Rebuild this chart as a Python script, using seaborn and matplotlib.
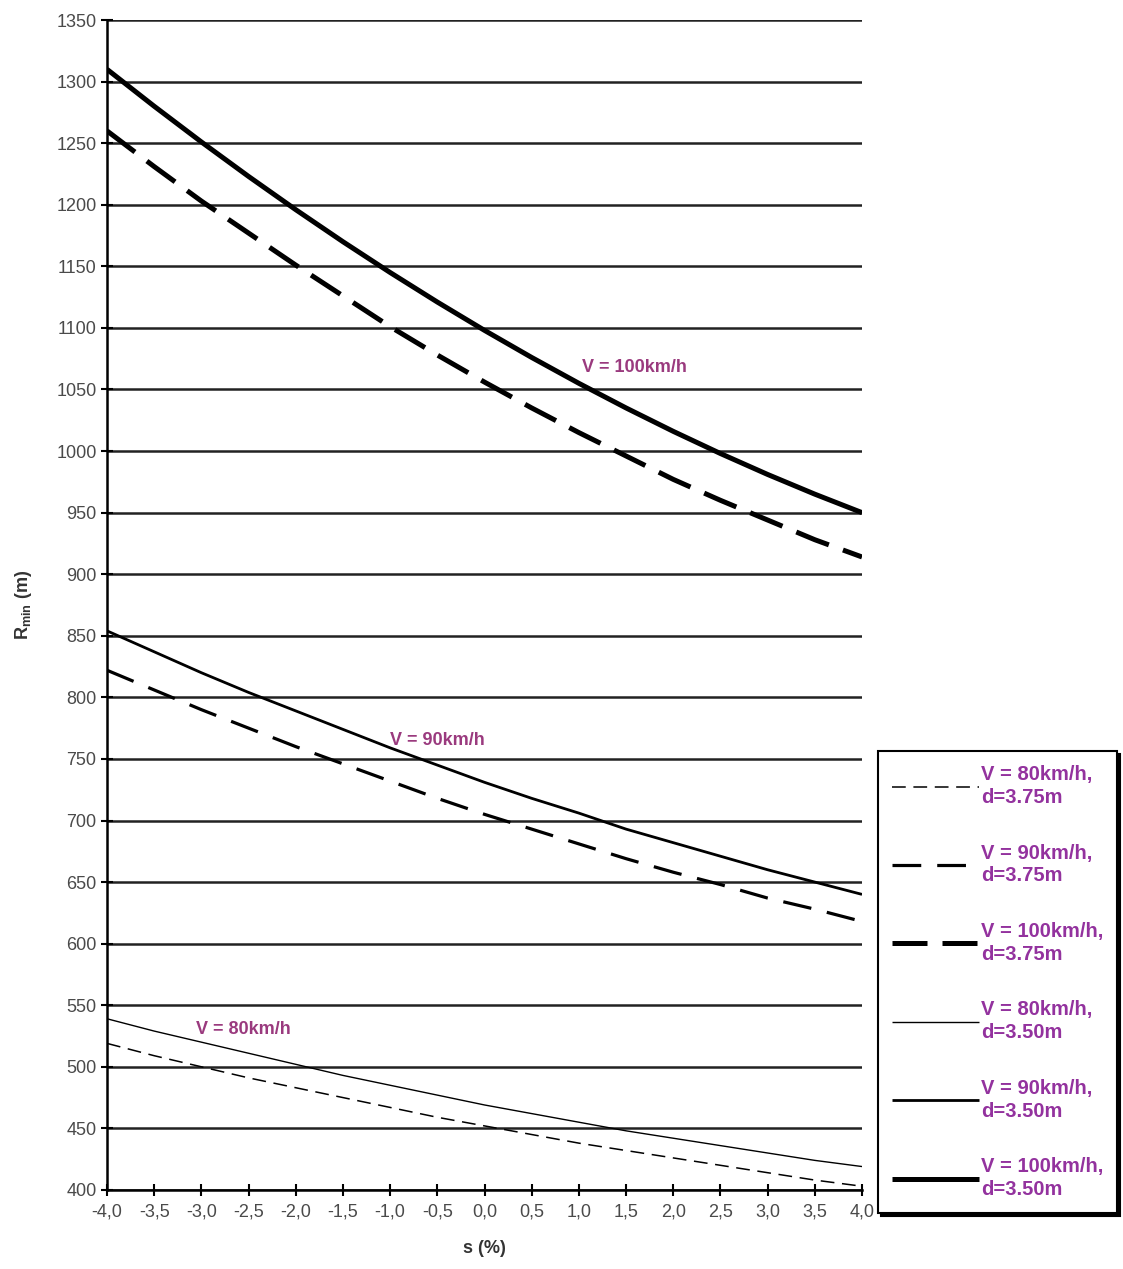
import matplotlib
matplotlib.use("Agg")
import matplotlib.pyplot as plt
import numpy as np
import pandas as pd
import seaborn as sns

# Grade s (%) and minimum radius R_min (m) for each design speed / lane width
s_values = [-4.0, -3.5, -3.0, -2.5, -2.0, -1.5, -1.0, -0.5, 0.0,
            0.5, 1.0, 1.5, 2.0, 2.5, 3.0, 3.5, 4.0]

r_80_375 = [519, 509, 500, 491, 483, 475, 467, 459, 452, 445, 438, 432, 426, 420, 414, 408, 403]
r_90_375 = [822, 806, 790, 775, 760, 746, 732, 718, 705, 693, 681, 669, 658, 648, 637, 628, 618]
r_100_375 = [1260, 1231, 1203, 1177, 1151, 1126, 1101, 1078, 1056, 1035, 1015, 996, 977, 960, 944, 928, 914]
r_80_350 = [539, 529, 520, 511, 502, 493, 485, 477, 469, 462, 455, 448, 442, 436, 430, 424, 419]
r_90_350 = [854, 837, 820, 804, 789, 774, 759, 745, 731, 718, 706, 693, 682, 671, 660, 650, 640]
r_100_350 = [1310, 1280, 1251, 1223, 1196, 1170, 1145, 1121, 1098, 1076, 1055, 1035, 1016, 998, 981, 965, 950]

series_labels = ["V = 80km/h,\nd=3.75m", "V = 90km/h,\nd=3.75m", "V = 100km/h,\nd=3.75m",
                 "V = 80km/h,\nd=3.50m", "V = 90km/h,\nd=3.50m", "V = 100km/h,\nd=3.50m"]
series_values = [r_80_375, r_90_375, r_100_375, r_80_350, r_90_350, r_100_350]

curve_labels = ["V = 80km/h", "V = 90km/h", "V = 100km/h"]
curve_label_pos = [(-3.06, 530), (-1.0, 765), (1.03, 1068)]

y_ticks = list(range(400, 1351, 50))
x_ticks = s_values
x_tick_labels = [f"{v:.1f}".replace(".", ",") for v in x_ticks]

sns.set_theme(style="white")
plt.rcParams["font.family"] = ["Liberation Sans", "DejaVu Sans"]

fig = plt.figure(figsize=(11.23, 12.69), dpi=100)
ax = fig.add_axes([0.0953, 0.0623, 0.6723, 0.9219])

# line widths / dash patterns per series
styles = [
    dict(lw=1.1, dashes=(9, 5)),
    dict(lw=2.3, dashes=(9, 5)),
    dict(lw=3.6, dashes=(7, 3)),
    dict(lw=1.0, dashes=None),
    dict(lw=2.0, dashes=None),
    dict(lw=3.6, dashes=None),
]

rows = []
for lab, vals in zip(series_labels, series_values):
    for s, r in zip(s_values, vals):
        rows.append({"s": s, "R": r, "series": lab})
df = pd.DataFrame(rows)

handles = []
for lab, st in zip(series_labels, styles):
    sub = df[df["series"] == lab]
    sns.lineplot(data=sub, x="s", y="R", ax=ax, color="black",
                 linewidth=st["lw"], label=lab, legend=False)
    line = ax.lines[-1]
    if st["dashes"] is not None:
        line.set_dashes(st["dashes"])
    line.set_solid_capstyle("butt")
    line.set_solid_joinstyle("round")
    handles.append(line)

for txt, (x, y) in zip(curve_labels, curve_label_pos):
    ax.text(x, y, txt, color="#9a3a7e", fontsize=13, fontweight="bold",
            ha="left", va="center")

ax.set_xlim(-4, 4)
ax.set_ylim(400, 1350)
ax.set_yticks(y_ticks)
ax.set_xticks(x_ticks)
ax.set_xticklabels(x_tick_labels)
ax.yaxis.grid(True, color="#222222", linewidth=1.8)
ax.xaxis.grid(False)
ax.set_axisbelow(True)

for side in ["top", "right"]:
    ax.spines[side].set_visible(False)
for side in ["left", "bottom"]:
    ax.spines[side].set_color("black")
    ax.spines[side].set_linewidth(1.8)

ax.tick_params(axis="both", direction="inout", length=8, width=1.5,
               color="black", labelsize=13, labelcolor="#4a4a4a",
               left=True, bottom=True)
ax.tick_params(axis="x", pad=6)

ax.set_ylabel(r"R$_{\mathregular{min}}$ (m)", fontsize=13, fontweight="bold",
              color="#333333", labelpad=16)
ax.set_xlabel("s (%)", fontsize=13, fontweight="bold", color="#333333", labelpad=14)

leg = fig.legend(handles=handles, labels=series_labels,
                 loc="lower left", bbox_to_anchor=(0.7818, 0.0441),
                 bbox_transform=fig.transFigure, borderaxespad=0,
                 fontsize=14.5, handlelength=4.3, handletextpad=0.1,
                 labelspacing=1.82, borderpad=0.7, frameon=True,
                 fancybox=False, edgecolor="black",
                 shadow={"color": "black", "alpha": 1.0})
leg.get_frame().set_linewidth(1.5)
for t in leg.get_texts():
    t.set_color("#93329e")
    t.set_fontweight("bold")
    t.set_linespacing(1.25)

fig.savefig("out.png", dpi=100, facecolor="white")
